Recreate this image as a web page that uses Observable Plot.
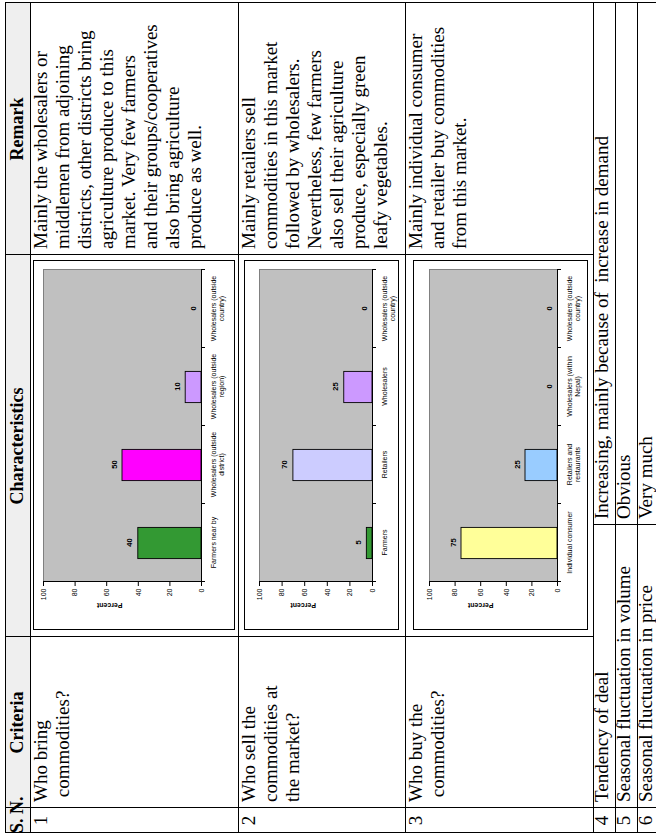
<!DOCTYPE html>
<html>
<head>
<meta charset="utf-8">
<script src="https://cdn.jsdelivr.net/npm/d3@7"></script>
<script src="https://cdn.jsdelivr.net/npm/@observablehq/plot@0.6"></script>
<style>
  html, body { margin: 0; padding: 0; background: #fff; width: 656px; height: 836px; overflow: hidden; }
  /* The table is laid out as a landscape page and turned a quarter turn to fit the portrait sheet. */
  #page {
    position: absolute; left: 0; top: 0; width: 836px; height: 656px; overflow: hidden;
    transform-origin: 0 0; transform: translate(0, 836px) rotate(-90deg);
    font-family: "Liberation Serif", "Times New Roman", serif; color: #000; background: #fff;
  }
  .txt { position: absolute; font-size: 19px; line-height: 22px; white-space: pre; }
  .hd { font-weight: bold; text-align: center; line-height: 25px; font-size: 18px; }
  .chart { position: absolute; border: 1px solid #000; background: #fff; }
  .chart svg { display: block; }
</style>
</head>
<body>
<div id="page"></div>
<script>
// ---- table text ----
const headers = ["S. N.", "Criteria", "Characteristics", "Remark"];
const serialNumbers = ["1", "2", "3", "4", "5", "6"];
const criteria = [
  ["Who bring", " commodities?"],
  ["Who sell the", "commodities at", "the market?"],
  ["Who buy the", " commodities?"],
  ["Tendency of deal"],
  ["Seasonal fluctuation in volume"],
  ["Seasonal fluctuation in price"]
];
const remarks = [
  ["Mainly the wholesalers or", "middlemen from adjoining", "districts, other districts bring",
   "agriculture produce to this", "market. Very few farmers", "and their groups/cooperatives",
   "also bring agriculture", "produce as well."],
  ["Mainly retailers sell", "commodities in this market", "followed by wholesalers.",
   "Nevertheless, few farmers", "also sell their agriculture", "produce, especially green",
   "leafy vegetables."],
  ["Mainly individual consumer", "and retailer buy commodities", "from this market."]
];
const shortAnswers = ["Increasing, mainly because of  increase in demand", "Obvious", "Very much"];

// ---- chart data ----
const supplierCategories = ["Farmers near by", "Wholesalers (outside\ndistrict)", "Wholesalers (outside\nregion)", "Wholesalers (outside\ncountry)"];
const supplierPercent = [40, 50, 10, 0];
const supplierColors = ["#339933", "#ff00ff", "#cc99ff", "#cc99ff"];

const sellerCategories = ["Farmers", "Retailers", "Wholesalers", "Wholesalers (outside\ncountry)"];
const sellerPercent = [5, 70, 25, 0];
const sellerColors = ["#339933", "#ccccff", "#cc99ff", "#cc99ff"];

const buyerCategories = ["Individual consumer", "Retailers and\nrestaurants", "Wholesalers (within\nNepal)", "Wholesalers (outside\ncountry)"];
const buyerPercent = [75, 25, 0, 0];
const buyerColors = ["#ffff99", "#99ccff", "#99ccff", "#99ccff"];

const percentTicks = [0, 20, 40, 60, 80, 100];

// ---- layout (landscape page coordinates) ----
const page = document.getElementById("page");
const colX = [3, 28, 199, 581, 833];          // S.N. | Criteria | Characteristics | Remark
const lowerColX = [3, 28, 311, 833];          // rows 4-6: S.N. | Criteria | answer
const rowY = [5, 30, 238, 405, 593, 615, 637, 659];

function rule(x, y, w, h) {
  const d = document.createElement("div");
  d.style.cssText = `position:absolute;left:${x}px;top:${y}px;width:${w}px;height:${h}px;background:#000`;
  page.appendChild(d);
}
function block(x, y, w, lines, cls) {
  const d = document.createElement("div");
  d.className = "txt" + (cls ? " " + cls : "");
  d.style.left = x + "px"; d.style.top = y + "px";
  if (w) d.style.width = w + "px";
  d.textContent = lines.join("\n");
  page.appendChild(d);
  return d;
}

// header shading
const shade = document.createElement("div");
shade.style.cssText = `position:absolute;left:${colX[0]}px;top:${rowY[0]}px;width:${colX[4] - colX[0]}px;height:${rowY[1] - rowY[0]}px;background:#efefef`;
page.appendChild(shade);

// grid lines
rowY.forEach(y => rule(colX[0], y, colX[4] - colX[0] + 1, 1));
[colX[0], colX[1], colX[4]].forEach(x => rule(x, rowY[0], 1, rowY[7] - rowY[0]));
[colX[2], colX[3]].forEach(x => rule(x, rowY[0], 1, rowY[4] - rowY[0]));
rule(lowerColX[2], rowY[4], 1, rowY[7] - rowY[4]);

// header texts
headers.forEach((h, i) => block(colX[i], rowY[0], colX[i + 1] - colX[i], [h], "hd"));

// body texts (the one-line rows sit a little high in their cells)
const lift = i => (i >= 3 ? 2 : 0);
serialNumbers.forEach((s, i) => {
  const d = block(colX[0], rowY[i + 1] - lift(i), colX[1] - colX[0], [s]);
  d.style.textAlign = "center";
});
criteria.forEach((c, i) => block(colX[1] + 6, rowY[i + 1] - lift(i), null, c));
remarks.forEach((r, i) => block(colX[3] + 6, rowY[i + 1], null, r));
shortAnswers.forEach((a, i) => block(lowerColX[2] + 6, rowY[i + 4] - 2, null, [a]));

// ---- bar charts ----
function barChart(categories, values, colors, box) {
  const n = categories.length;
  const rows = categories.map((c, i) => ({i, c, v: values[i], color: colors[i]}));
  const bars = rows.filter(d => d.v > 0);
  return Plot.plot({
    width: box.w, height: box.h,
    marginLeft: box.ml, marginRight: box.mr, marginTop: box.mt, marginBottom: box.mb,
    style: {background: "transparent", fontFamily: "'Liberation Sans', Arial, sans-serif", fontSize: "7px", color: "#000", overflow: "visible"},
    x: {type: "linear", domain: [0, n], axis: null},
    y: {domain: [0, 100], axis: null},
    color: {type: "identity"},
    marks: [
      Plot.frame({fill: "#c0c0c0", stroke: "#808080"}),
      Plot.rect(bars, {x1: d => d.i + 0.3, x2: d => d.i + 0.7, y1: 0, y2: "v", fill: "color", stroke: "#000", strokeWidth: 0.9}),
      Plot.ruleX([0], {stroke: "#000"}),
      Plot.ruleY([0], {stroke: "#000"}),
      Plot.axisY(percentTicks, {anchor: "left", label: null, tickSize: 4, tickPadding: 3, fontSize: 7, stroke: "#000"}),
      Plot.axisX(d3.range(n + 1), {anchor: "bottom", label: null, tickSize: 4, tickFormat: () => "", stroke: "#000"}),
      Plot.text(rows, {x: d => d.i + 0.5, y: 0, text: "c", lineAnchor: "top", dy: 9, fontSize: 7, lineHeight: 1.15}),
      Plot.text(rows, {x: d => d.i + 0.5, y: "v", text: d => String(d.v), lineAnchor: "bottom", dy: -6, fontSize: 7.5, fontWeight: "bold"}),
      Plot.text(["Percent"], {frameAnchor: "left", rotate: -90, dx: -24, fontSize: 7, fontWeight: "bold"})
    ]
  });
}

const charts = [
  {cats: supplierCategories, vals: supplierPercent, cols: supplierColors, x: 206, y: 33, w: 370, h: 202, mt: 9, mb: 33},
  {cats: sellerCategories, vals: sellerPercent, cols: sellerColors, x: 206, y: 244, w: 370, h: 155, mt: 14, mb: 26},
  {cats: buyerCategories, vals: buyerPercent, cols: buyerColors, x: 206, y: 413, w: 370, h: 175, mt: 15, mb: 30}
];
charts.forEach(c => {
  const holder = document.createElement("div");
  holder.className = "chart";
  holder.style.left = c.x + "px"; holder.style.top = c.y + "px";
  holder.style.width = (c.w - 2) + "px"; holder.style.height = (c.h - 2) + "px";
  holder.appendChild(barChart(c.cats, c.vals, c.cols, {w: c.w - 2, h: c.h - 2, ml: 47, mr: 9, mt: c.mt, mb: c.mb}));
  page.appendChild(holder);
});
</script>
</body>
</html>
